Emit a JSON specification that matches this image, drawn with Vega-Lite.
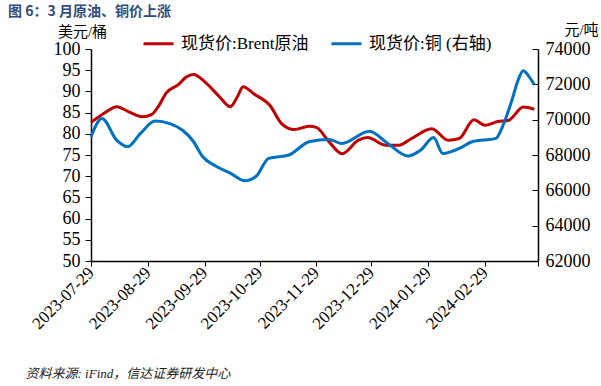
{
  "$schema": "https://vega.github.io/schema/vega-lite/v6.json",
  "width": 447,
  "height": 212,
  "autosize": {"type": "none"},
  "padding": {"left": 91, "top": 49, "right": 63, "bottom": 125},
  "background": "white",
  "config": {"view": {"stroke": null}, "font": "Liberation Serif, Noto Sans CJK SC"},
  "title": {
    "text": "图 6：3 月原油、铜价上涨",
    "anchor": "start",
    "frame": "group",
    "dx": -83,
    "dy": 11,
    "offset": 14,
    "font": "Noto Sans CJK SC",
    "fontSize": 14,
    "fontWeight": "bold",
    "color": "#2F4B7C"
  },
  "datasets": {
    "brent": [
      {"date": "2023-07-29", "price": 82.7},
      {"date": "2023-08-06", "price": 85.1},
      {"date": "2023-08-12", "price": 86.4},
      {"date": "2023-08-19", "price": 85.1},
      {"date": "2023-08-26", "price": 84.0},
      {"date": "2023-08-31", "price": 84.5},
      {"date": "2023-09-04", "price": 86.6},
      {"date": "2023-09-08", "price": 89.6},
      {"date": "2023-09-15", "price": 91.7},
      {"date": "2023-09-19", "price": 93.4},
      {"date": "2023-09-23", "price": 94.0},
      {"date": "2023-09-29", "price": 92.3},
      {"date": "2023-10-07", "price": 88.8},
      {"date": "2023-10-13", "price": 86.4},
      {"date": "2023-10-17", "price": 88.8},
      {"date": "2023-10-20", "price": 91.1},
      {"date": "2023-10-26", "price": 89.4},
      {"date": "2023-11-04", "price": 86.5},
      {"date": "2023-11-10", "price": 82.4},
      {"date": "2023-11-17", "price": 81.0},
      {"date": "2023-11-25", "price": 81.8},
      {"date": "2023-11-29", "price": 81.5},
      {"date": "2023-12-06", "price": 78.1},
      {"date": "2023-12-13", "price": 75.3},
      {"date": "2023-12-22", "price": 78.5},
      {"date": "2023-12-27", "price": 79.1},
      {"date": "2024-01-06", "price": 77.3},
      {"date": "2024-01-13", "price": 77.3},
      {"date": "2024-01-20", "price": 78.9},
      {"date": "2024-01-31", "price": 81.2},
      {"date": "2024-02-09", "price": 78.5},
      {"date": "2024-02-15", "price": 78.9},
      {"date": "2024-02-23", "price": 83.3},
      {"date": "2024-02-29", "price": 82.0},
      {"date": "2024-03-07", "price": 82.9},
      {"date": "2024-03-13", "price": 83.2},
      {"date": "2024-03-21", "price": 86.3},
      {"date": "2024-03-27", "price": 85.8}
    ],
    "copper": [
      {"date": "2023-07-29", "price": 69030},
      {"date": "2023-08-04", "price": 70060},
      {"date": "2023-08-12", "price": 68840},
      {"date": "2023-08-18", "price": 68470},
      {"date": "2023-08-25", "price": 69220},
      {"date": "2023-09-02", "price": 69920},
      {"date": "2023-09-10", "price": 69780},
      {"date": "2023-09-17", "price": 69400},
      {"date": "2023-09-23", "price": 68750},
      {"date": "2023-09-28", "price": 67900},
      {"date": "2023-10-05", "price": 67380},
      {"date": "2023-10-13", "price": 66970},
      {"date": "2023-10-21", "price": 66540},
      {"date": "2023-10-27", "price": 66780},
      {"date": "2023-11-03", "price": 67810},
      {"date": "2023-11-14", "price": 68000},
      {"date": "2023-11-25", "price": 68750},
      {"date": "2023-12-06", "price": 68880},
      {"date": "2023-12-13", "price": 68650},
      {"date": "2023-12-28", "price": 69350},
      {"date": "2024-01-07", "price": 68650},
      {"date": "2024-01-18", "price": 67940},
      {"date": "2024-01-25", "price": 68280},
      {"date": "2024-02-01", "price": 68990},
      {"date": "2024-02-06", "price": 68090},
      {"date": "2024-02-15", "price": 68370},
      {"date": "2024-02-22", "price": 68750},
      {"date": "2024-03-06", "price": 68940},
      {"date": "2024-03-10", "price": 69700},
      {"date": "2024-03-15", "price": 71180},
      {"date": "2024-03-18", "price": 72200},
      {"date": "2024-03-21", "price": 72770},
      {"date": "2024-03-24", "price": 72450},
      {"date": "2024-03-27", "price": 71970}
    ]
  },
  "layer": [
    {
      "data": {"name": "brent"},
      "mark": {"type": "line", "interpolate": "monotone", "strokeWidth": 3},
      "encoding": {
        "x": {
          "field": "date",
          "type": "temporal",
          "scale": {
            "type": "utc",
            "domain": [
              {"year": 2023, "month": 7, "date": 29, "utc": true},
              {"year": 2024, "month": 3, "date": 29, "utc": true}
            ]
          },
          "axis": {
            "values": [
              {"year": 2023, "month": 7, "date": 29, "utc": true},
              {"year": 2023, "month": 8, "date": 29, "utc": true},
              {"year": 2023, "month": 9, "date": 29, "utc": true},
              {"year": 2023, "month": 10, "date": 29, "utc": true},
              {"year": 2023, "month": 11, "date": 29, "utc": true},
              {"year": 2023, "month": 12, "date": 29, "utc": true},
              {"year": 2024, "month": 1, "date": 29, "utc": true},
              {"year": 2024, "month": 2, "date": 29, "utc": true},
              {"year": 2024, "month": 3, "date": 29, "utc": true}
            ],
            "labelExpr": "datum.value >= 1711600000000 ? '' : utcFormat(datum.value, '%Y-%m-%d')",
            "labelAngle": -45,
            "labelAlign": "right",
            "labelBaseline": "middle",
            "labelFontSize": 17,
            "labelColor": "black",
            "labelPadding": 4,
            "labelFlush": false,
            "labelOverlap": false,
            "domainColor": "black",
            "domainWidth": 1.5,
            "tickColor": "black",
            "tickSize": 5,
            "grid": false,
            "title": "资料来源: iFind，信达证券研发中心",
            "titleX": -66,
            "titleY": 106,
            "titleAlign": "left",
            "titleAnchor": null,
            "titleFontStyle": "italic",
            "titleFontWeight": "normal",
            "titleFontSize": 13,
            "titleColor": "#222"
          }
        },
        "y": {
          "field": "price",
          "type": "quantitative",
          "scale": {"domain": [50, 100], "nice": false},
          "axis": {
            "values": [50, 55, 60, 65, 70, 75, 80, 85, 90, 95, 100],
            "grid": false,
            "labelFontSize": 18,
            "labelColor": "black",
            "labelPadding": 5,
            "domainColor": "black",
            "domainWidth": 1.5,
            "tickColor": "black",
            "tickSize": 6,
            "title": "美元/桶",
            "titleAngle": 0,
            "titleX": -9,
            "titleY": -13,
            "titleAlign": "center",
            "titleBaseline": "alphabetic",
            "titleFontWeight": "normal",
            "titleFontSize": 15,
            "titleColor": "black"
          }
        },
        "color": {
          "datum": "现货价:Brent原油",
          "type": "nominal",
          "scale": {"domain": ["现货价:Brent原油", "现货价:铜 (右轴)"], "range": ["#C00000", "#0070C0"]},
          "legend": {
            "orient": "none",
            "legendX": 51,
            "legendY": -22,
            "direction": "horizontal",
            "title": null,
            "symbolType": "stroke",
            "symbolSize": 900,
            "symbolStrokeWidth": 3,
            "labelFontSize": 17,
            "labelColor": "black",
            "labelOffset": 6,
            "columnPadding": 16
          }
        }
      }
    },
    {
      "data": {"name": "copper"},
      "mark": {"type": "line", "interpolate": "monotone", "strokeWidth": 3},
      "encoding": {
        "x": {"field": "date", "type": "temporal"},
        "y": {
          "field": "price",
          "type": "quantitative",
          "scale": {"domain": [62000, 74000], "nice": false},
          "axis": {
            "orient": "right",
            "values": [62000, 64000, 66000, 68000, 70000, 72000, 74000],
            "format": "d",
            "grid": false,
            "labelFontSize": 18,
            "labelColor": "black",
            "labelPadding": 13,
            "domainColor": "black",
            "domainWidth": 1.5,
            "tickColor": "black",
            "tickSize": -6,
            "title": "元/吨",
            "titleAngle": 0,
            "titleX": 43,
            "titleY": -15,
            "titleAlign": "center",
            "titleBaseline": "alphabetic",
            "titleFontWeight": "normal",
            "titleFontSize": 15,
            "titleColor": "black"
          }
        },
        "color": {"datum": "现货价:铜 (右轴)", "type": "nominal"}
      }
    }
  ],
  "resolve": {"scale": {"y": "independent"}}
}
